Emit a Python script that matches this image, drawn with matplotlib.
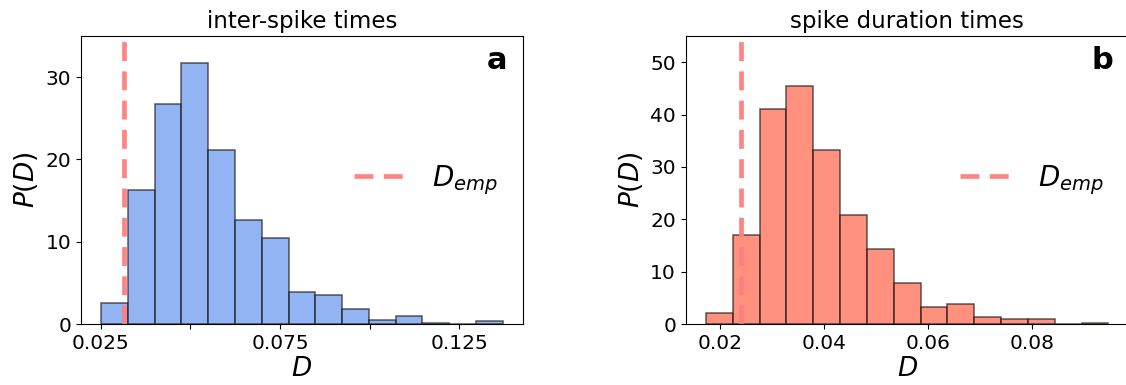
import numpy as np
import matplotlib
matplotlib.use("Agg")
import matplotlib.pyplot as plt

# ---- data ----
isi_edges_range = (0.0251, 0.1371)
isi_heights = [2.56, 16.3, 26.7, 31.7, 21.2, 12.66, 10.5, 3.9, 3.5, 1.87, 0.53, 0.93, 0.12, 0.0, 0.41]
isi_demp = 0.0316

dur_edges_range = (0.01727, 0.0946)
dur_heights = [2.1, 17.0, 41.1, 45.4, 33.3, 20.9, 14.4, 7.8, 3.3, 3.9, 1.35, 0.9, 0.96, 0.0, 0.25]
dur_demp = 0.02407

titles = ["inter-spike times", "spike duration times"]
letters = ["a", "b"]
isi_ticks = [0.025, 0.05, 0.075, 0.1, 0.125]
isi_ticklabels = ["0.025", "", "0.075", "", "0.125"]
dur_ticks = [0.02, 0.04, 0.06, 0.08]
dur_ticklabels = ["0.02", "0.04", "0.06", "0.08"]

fig = plt.figure(figsize=(11.26, 3.85), dpi=100)
ax1 = fig.add_axes([0.0719, 0.1584, 0.3925, 0.748])
ax2 = fig.add_axes([0.609, 0.1584, 0.3933, 0.748])

panels = [
    (ax1, isi_edges_range, isi_heights, isi_demp, "cornflowerblue", 35, isi_ticks, isi_ticklabels, [0, 10, 20, 30]),
    (ax2, dur_edges_range, dur_heights, dur_demp, "tomato", 55, dur_ticks, dur_ticklabels, [0, 10, 20, 30, 40, 50]),
]

for i, (ax, rng, heights, demp, col, ytop, xt, xtl, yt) in enumerate(panels):
    edges = np.linspace(rng[0], rng[1], len(heights) + 1)
    ax.bar(edges[:-1], heights, width=np.diff(edges), align="edge",
           color=col, alpha=0.7, edgecolor="#1a1a1a", linewidth=1.1)
    ax.axvline(demp, color="#ff7f7f", linestyle="--", linewidth=3.4,
               dashes=(4, 2.2), label=r"$D_{emp}$", alpha=0.95)
    ax.set_ylim(0, ytop)
    ax.set_xticks(xt)
    ax.set_xticklabels(xtl)
    ax.set_yticks(yt)
    ax.tick_params(labelsize=14.5)
    ax.set_title(titles[i], fontsize=16.5)
    ax.set_xlabel(r"$D$", fontsize=19, labelpad=2)
    ax.set_ylabel(r"$P(D)$", fontsize=19, labelpad=4)
    ax.text(0.965, 0.965, letters[i], transform=ax.transAxes, ha="right", va="top",
            fontsize=22, fontweight="bold")
    ax.legend(loc="center right", frameon=False, fontsize=20)

fig.savefig("out.png", dpi=100)
